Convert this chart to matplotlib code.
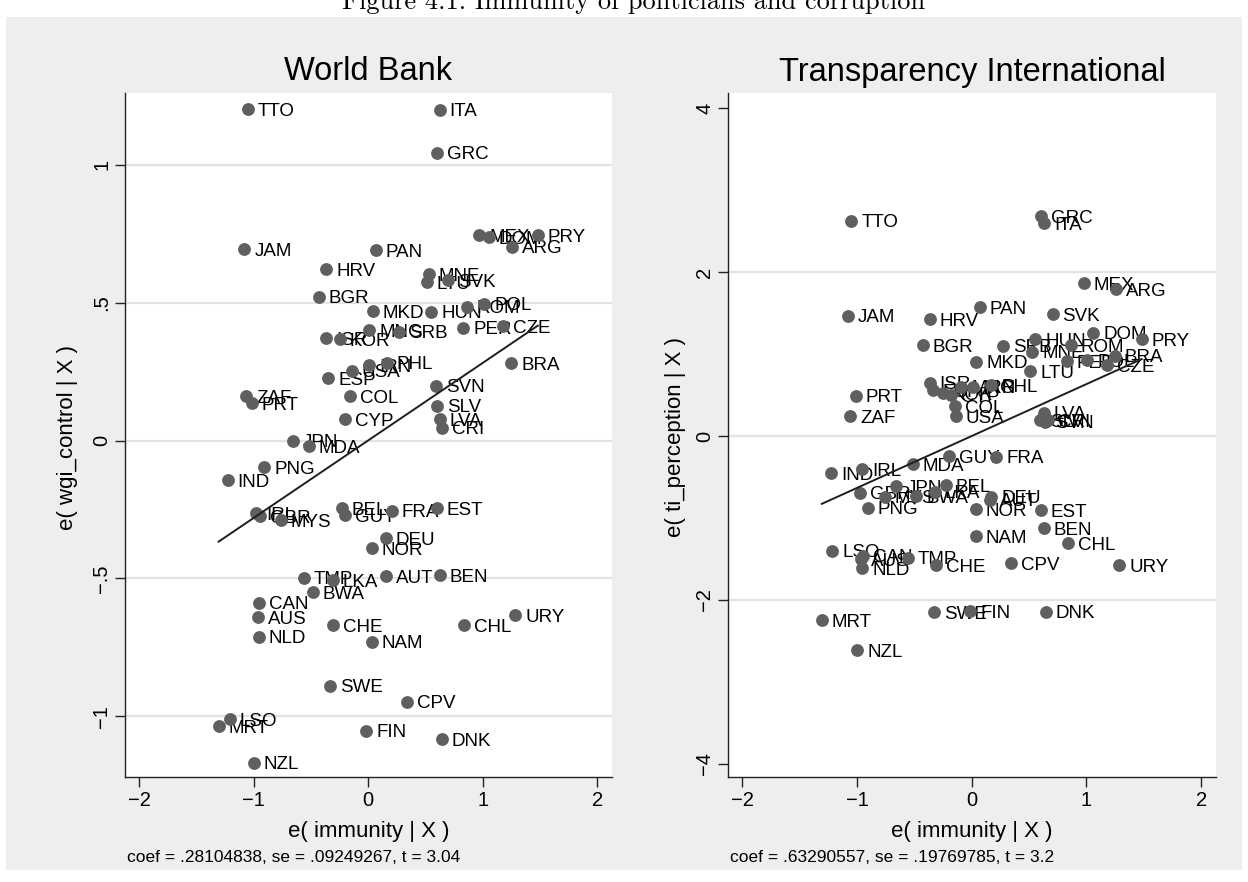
import matplotlib
matplotlib.use("Agg")
import matplotlib.pyplot as plt
from matplotlib.patches import Rectangle
import numpy as np

plt.rcParams['font.family'] = ['Liberation Sans', 'DejaVu Sans']

# ---------------- data: World Bank panel ----------------
wb_country = ["TTO", "ITA", "GRC", "JAM", "PAN", "HRV", "BGR", "MNE", "LTU", "SVK",
              "MEX", "DOM", "PRY", "ARG", "MKD", "HUN", "ROM", "POL", "MNG", "SRB",
              "PER", "CZE", "ISR", "KOR", "ESP", "USA", "IRN", "PHL", "BRA", "SVN",
              "ZAF", "PRT", "COL", "CYP", "SLV", "LVA", "CRI", "JPN", "MDA", "PNG",
              "IND", "IRL", "GBR", "MYS", "BEL", "GUY", "FRA", "EST", "DEU", "NOR",
              "TMP", "LKA", "AUT", "BEN", "BWA", "CAN", "AUS", "NLD", "CHE", "CHL",
              "URY", "NAM", "SWE", "CPV", "LSO", "MRT", "FIN", "DNK", "NZL"]
wb_x = [-1.054, 0.623, 0.600, -1.083, 0.064, -0.367, -0.431, 0.527, 0.512, 0.700,
        0.972, 1.054, 1.482, 1.260, 0.038, 0.550, 0.860, 1.013, 0.009, 0.271,
        0.830, 1.176, -0.367, -0.250, -0.347, -0.143, 0.009, 0.160, 1.249, 0.594,
        -1.066, -1.016, -0.157, -0.207, 0.600, 0.623, 0.644, -0.658, -0.521, -0.908,
        -1.229, -0.978, -0.943, -0.763, -0.230, -0.200, 0.207, 0.600, 0.155, 0.032,
        -0.565, -0.308, 0.157, 0.623, -0.483, -0.958, -0.963, -0.958, -0.312, 0.838,
        1.284, 0.032, -0.332, 0.343, -1.211, -1.307, -0.017, 0.644, -1.000]
wb_y = [1.203, 1.200, 1.045, 0.694, 0.690, 0.622, 0.522, 0.604, 0.574, 0.583,
        0.745, 0.737, 0.746, 0.703, 0.470, 0.468, 0.486, 0.496, 0.401, 0.395,
        0.409, 0.414, 0.371, 0.367, 0.226, 0.253, 0.274, 0.283, 0.280, 0.199,
        0.162, 0.135, 0.162, 0.077, 0.126, 0.078, 0.047, 0.000, -0.020, -0.097,
        -0.143, -0.264, -0.274, -0.289, -0.246, -0.270, -0.255, -0.246, -0.355, -0.391,
        -0.498, -0.506, -0.492, -0.488, -0.551, -0.589, -0.640, -0.712, -0.670, -0.670,
        -0.633, -0.730, -0.890, -0.948, -1.012, -1.036, -1.053, -1.083, -1.169]
wb_coef = 0.28104838
wb_note = "coef = .28104838, se = .09249267, t = 3.04"

# ---------------- data: Transparency International panel ----------------
ti_country = wb_country
ti_x = [-1.051, 0.629, 0.600, -1.080, 0.070, -0.367, -0.425, 0.527, 0.512, 0.705,
        0.978, 1.059, 1.482, 1.258, 0.041, 0.556, 0.862, 1.007, -0.090, 0.274,
        0.827, 1.182, -0.367, -0.251, -0.338, -0.140, 0.015, 0.170, 1.249, 0.637,
        -1.060, -1.013, -0.148, -0.177, 0.594, 0.629, 0.666, -0.658, -0.513, -0.906,
        -1.225, -0.955, -0.970, -0.760, -0.227, -0.198, 0.215, 0.600, 0.170, 0.035,
        -0.556, -0.323, 0.157, 0.629, -0.483, -0.950, -0.963, -0.955, -0.314, 0.841,
        1.287, 0.035, -0.329, 0.346, -1.217, -1.307, -0.012, 0.644, -0.998]
ti_y = [2.626, 2.594, 2.683, 1.467, 1.569, 1.423, 1.110, 1.028, 0.793, 1.484,
        1.862, 1.260, 1.183, 1.789, 0.906, 1.179, 1.110, 0.927, 0.600, 1.101,
        0.915, 0.866, 0.650, 0.521, 0.561, 0.244, 0.600, 0.620, 0.979, 0.175,
        0.244, 0.492, 0.366, 0.500, 0.195, 0.285, 0.195, -0.610, -0.341, -0.874,
        -0.455, -0.406, -0.691, -0.740, -0.598, -0.244, -0.252, -0.902, -0.740, -0.894,
        -1.484, -0.679, -0.775, -1.126, -0.732, -1.460, -1.500, -1.614, -1.573, -1.309,
        -1.573, -1.220, -2.150, -1.553, -1.398, -2.244, -2.134, -2.142, -2.610]
ti_coef = 0.63290557
ti_note = "coef = .63290557, se = .19769785, t = 3.2"

titles = ["World Bank", "Transparency International"]
ylabels = ["e( wgi_control | X )", "e( ti_perception | X )"]
xlabel = "e( immunity | X )"
xticks = [-2, -1, 0, 1, 2]
wb_yticks = [-1, -0.5, 0, 0.5, 1]
wb_yticklabels = ["\u22121", "\u2212.5", "0", ".5", "1"]
ti_yticks = [-4, -2, 0, 2, 4]
ti_yticklabels = ["\u22124", "\u22122", "0", "2", "4"]
caption = "Figure 4.1: Immunity of politicians and corruption"

# ---------------- figure ----------------
W, H = 1248, 882
fig = plt.figure(figsize=(W / 100, H / 100), dpi=100, facecolor="white")

BG = "#eeeeee"
fig.patches.append(Rectangle((6 / W, 1 - 870 / H), (1242 - 6) / W, (870 - 17) / H,
                             transform=fig.transFigure, facecolor=BG, edgecolor="none",
                             zorder=-10))

fig.text(634 / W, 1 - 9 / H, caption, ha="center", va="baseline",
         fontsize=19, family="cmr10", color="black")


def rect(l, r, t, b):
    return [l / W, 1 - b / H, (r - l) / W, (b - t) / H]


panels = [
    dict(rect=rect(125, 612, 93, 777), x=wb_x, y=wb_y, lab=wb_country, coef=wb_coef,
         note=wb_note, yticks=wb_yticks, ytl=wb_yticklabels, ylim=(-1.221, 1.261),
         grid=wb_yticks, l=125, r=612, ylab_x=68),
    dict(rect=rect(728, 1216, 93, 777), x=ti_x, y=ti_y, lab=ti_country, coef=ti_coef,
         note=ti_note, yticks=ti_yticks, ytl=ti_yticklabels, ylim=(-4.159, 4.183),
         grid=[-2, 0, 2], l=728, r=1216, ylab_x=676),
]

MCOL = "#5f5f5f"
for i, p in enumerate(panels):
    ax = fig.add_axes(p["rect"])
    ax.set_zorder(1)
    ax.set_facecolor("white")
    ax.set_xlim(-2.125, 2.13)
    ax.set_ylim(*p["ylim"])
    for g in p["grid"]:
        ax.axhline(g, color="#e3e3e3", lw=1.6, zorder=1)
    xs = np.array(p["x"])
    ys = np.array(p["y"])
    # fitted line from the coefficient
    b0 = ys.mean() - p["coef"] * xs.mean()
    xx = np.array([xs.min(), xs.max()])
    ax.plot(xx, b0 + p["coef"] * xx, color="#1e1e1e", lw=1.4, zorder=4)
    for xi, yi, name in zip(xs, ys, p["lab"]):
        ax.annotate(name, (xi, yi), xytext=(7.2, -4.8), textcoords="offset points",
                    ha="left", va="baseline", fontsize=13.5, color="black", zorder=2)
    ax.plot(xs, ys, "o", ls="none", ms=8.2, color=MCOL, mec=MCOL, zorder=3)

    for s in ["top", "right"]:
        ax.spines[s].set_visible(False)
    for s in ["left", "bottom"]:
        ax.spines[s].set_color("#222222")
        ax.spines[s].set_linewidth(1.0)
    ax.set_xticks(xticks)
    ax.set_xticklabels(["\u22122", "\u22121", "0", "1", "2"])
    ax.set_yticks(p["yticks"])
    ax.set_yticklabels(p["ytl"])
    ax.tick_params(axis="both", length=7, width=1.0, color="#222222",
                   labelsize=14.5, pad=3)
    for lbl in ax.get_yticklabels():
        lbl.set_rotation(90)
        lbl.set_va("center")
        lbl.set_ha("right")

    cx = (p["l"] + p["r"]) / 2
    fig.text(cx / W, 1 - 72 / H, titles[i], ha="center", va="center", fontsize=23.5)
    fig.text(cx / W, 1 - 832 / H, xlabel, ha="center", va="center", fontsize=16)
    fig.text((p["l"] + 2) / W, 1 - 857 / H, p["note"], ha="left", va="center",
             fontsize=12.5)
    fig.text(p["ylab_x"] / W, 1 - 437 / H, ylabels[i], ha="center", va="center",
             rotation=90, fontsize=16)

fig.savefig("out.png", dpi=100, facecolor="white")
